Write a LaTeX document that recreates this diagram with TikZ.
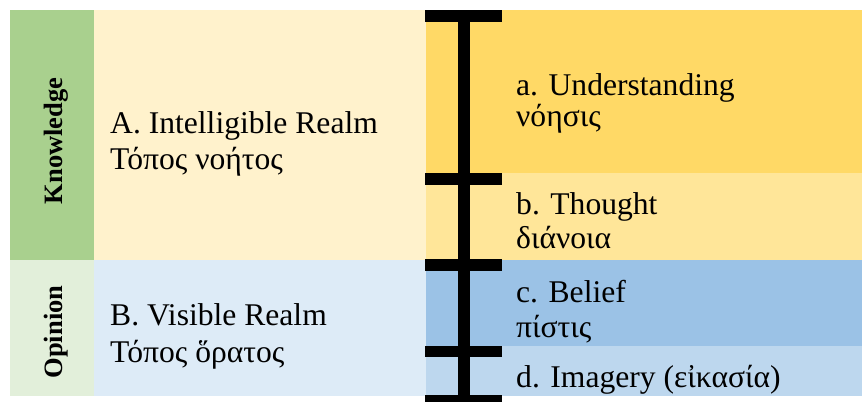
\documentclass[tikz,border=0pt]{standalone}
\usepackage{fontspec}
\setmainfont{Liberation Serif}
\definecolor{kgreen}{HTML}{A9D08E}
\definecolor{ogreen}{HTML}{E2EFDA}
\definecolor{ayellow}{HTML}{FFF2CC}
\definecolor{gold}{HTML}{FFD966}
\definecolor{lgold}{HTML}{FFE699}
\definecolor{bblue}{HTML}{9BC2E6}
\definecolor{lblue}{HTML}{DDEBF7}
\definecolor{mblue}{HTML}{BDD7EE}
\begin{document}
\begin{tikzpicture}[x=1pt,y=-1pt,
  txt/.style={anchor=base west, inner sep=0pt, font=\fontsize{31.6}{35}\selectfont},
  side/.style={anchor=base, rotate=90, inner sep=0pt, font=\fontsize{26.5}{30}\selectfont\bfseries},
  barfill/.style={fill=black}]
\useasboundingbox[fill=white] (0,0) rectangle (862,402);
% left column
\fill[kgreen] (10,10) rectangle (94,260);
\fill[ogreen] (10,260) rectangle (94,396);
% middle column
\fill[ayellow] (94,10) rectangle (426,260);
\fill[lblue] (94,260) rectangle (426,396);
% right column
\fill[gold] (426,10) rectangle (862,173);
\fill[lgold] (426,173) rectangle (862,260);
\fill[bblue] (426,260) rectangle (862,346);
\fill[mblue] (426,346) rectangle (862,396);
% bar
\fill[barfill] (458,10) rectangle (470,402);
\fill[barfill] (425,10) rectangle (502,22);
\fill[barfill] (425,173) rectangle (502,185);
\fill[barfill] (425,259) rectangle (502,271);
\fill[barfill] (425,346) rectangle (502,357);
\fill[barfill] (425,395) rectangle (502,402);
% side labels
\node[side] (know) at (62,141) {Knowledge};
\node[side] (opin) at (62,332) {Opinion};
% middle labels
\node[txt] (Aen) at (110,133) {A. Intelligible Realm};
\node[txt] (Agr) at (110,169) {Τόπος νοήτος};
\node[txt] (Ben) at (110,325) {B. Visible Realm};
\node[txt] (Bgr) at (110,362) {Τόπος ὅρατος};
% right labels
\node[txt] (aen) at (516,95) {a. Understanding};
\node[txt] (agr) at (516,126) {νόησις};
\node[txt] (ben) at (516,214) {b. Thought};
\node[txt] (bgr) at (516,248) {διάνοια};
\node[txt] (cen) at (516,302) {c. Belief};
\node[txt] (cgr) at (516,337) {πίστις};
\node[txt] (den) at (516,387) {d. Imagery (εἰκασία)};
\end{tikzpicture}
\end{document}
